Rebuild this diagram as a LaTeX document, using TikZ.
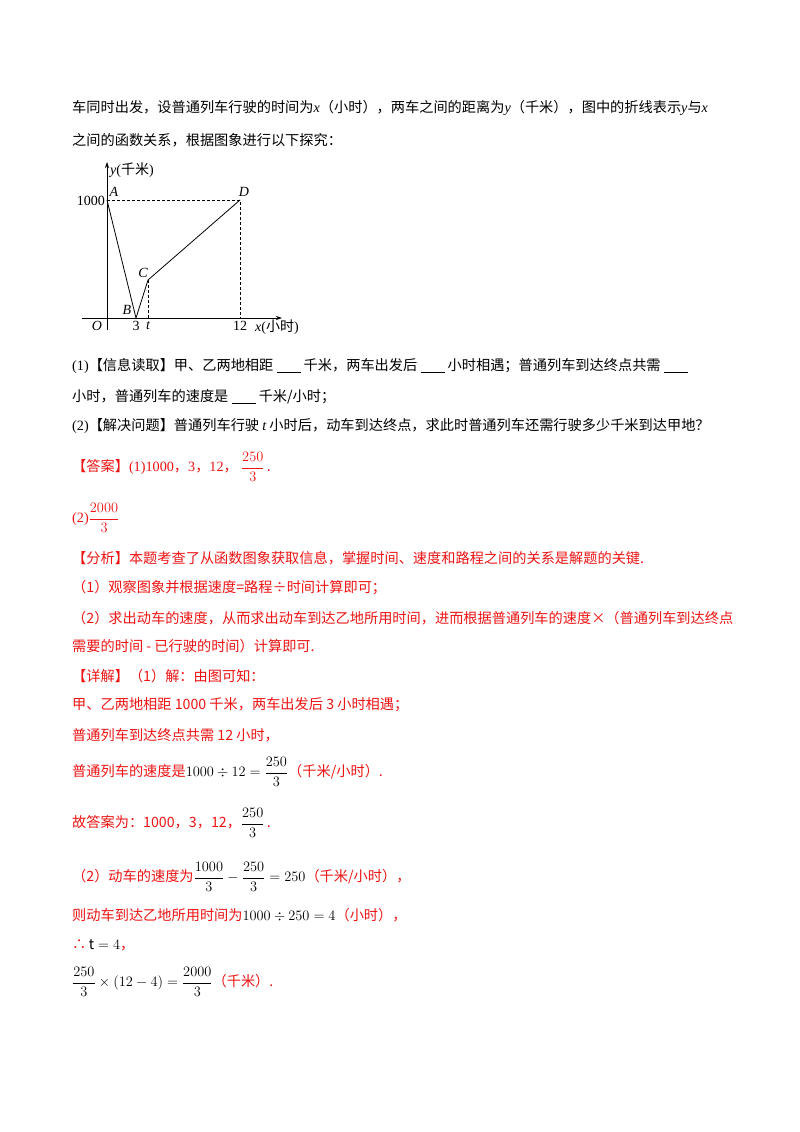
\documentclass[tikz,border=0pt]{standalone}
\usepackage{fontspec}
\setmainfont{Noto Sans CJK SC}
\newfontfamily\lt{Liberation Serif}
\usetikzlibrary{arrows.meta}
\definecolor{ans}{RGB}{238,20,20}
\newcommand{\blank}{\rule[-2pt]{24pt}{0.7pt}}
\begin{document}
\begin{tikzpicture}[x=1pt,y=-1pt,
  txt/.style={anchor=west,inner sep=0pt,font=\fontsize{14.2}{16}\selectfont},
  rtxt/.style={txt,text=ans},
  lbl/.style={inner sep=0pt,font=\lt\fontsize{14}{16}\selectfont},
  ax/.style={line width=0.7pt,-{Stealth[length=6pt,width=4pt]}},
  dsh/.style={dashed,line width=0.5pt,dash pattern=on 3pt off 2pt},
  crv/.style={line width=0.8pt}]
\useasboundingbox (0,0) rectangle (800,1132);
\fill[white] (0,0) rectangle (800,1132);
% text
\node[txt] (l1) at (72,108) {车同时出发，设普通列车行驶的时间为{\lt\itshape x}（小时），两车之间的距离为{\lt\itshape y}（千米），图中的折线表示{\lt\itshape y}与{\lt\itshape x}};
\node[txt] (l2) at (72,140) {之间的函数关系，根据图象进行以下探究：};
% graph
\coordinate (O) at (107,318);
\coordinate (A) at (107,200);
\coordinate (B) at (136,318);
\coordinate (C) at (148,280);
\coordinate (D) at (240,200);
\coordinate (C0) at (148,318);
\coordinate (D0) at (240,318);
\coordinate (xs) at (82,318);
\coordinate (xe) at (282,318);
\coordinate (ys) at (107,330);
\coordinate (ye) at (107,162);
\draw[ax] (xs) -- (xe);
\draw[ax] (ys) -- (ye);
\draw[dsh] (A) -- (D) -- (D0);
\draw[dsh] (C) -- (C0);
\draw[crv] (A) -- (B) -- (C) -- (D);
\node[lbl,anchor=west] (yl) at (110,170) {\itshape y{\upshape (}{\rmfamily 千米}{\upshape )}};
\node[lbl,anchor=east] (k) at (105,201) {1000};
\node[lbl] (An) at (114,192) {\itshape A};
\node[lbl] (Dn) at (244,192) {\itshape D};
\node[lbl] (Cn) at (143,273) {\itshape C};
\node[lbl] (Bn) at (127,310) {\itshape B};
\node[lbl] (On) at (97,326) {\itshape O};
\node[lbl] (n3) at (136,326) {3};
\node[lbl] (nt) at (148,326) {\itshape t};
\node[lbl] (n12) at (240,326) {12};
\node[lbl,anchor=west] (xl) at (255,327) {\itshape x{\upshape (}{\rmfamily 小时}{\upshape )}};
% questions
\node[txt] (q1) at (72,366) {{\lt(1)}【信息读取】甲、乙两地相距 \blank\ 千米，两车出发后 \blank\ 小时相遇；普通列车到达终点共需 \blank};
\node[txt] (q1b) at (72,397) {小时，普通列车的速度是 \blank\ 千米/小时；};
\node[txt] (q2) at (72,426) {{\lt(2)}【解决问题】普通列车行驶 {\lt\itshape t} 小时后，动车到达终点，求此时普通列车还需行驶多少千米到达甲地？};
% answer
\node[rtxt] (a1) at (72,467) {【答案】{\lt(1)1000}，{\lt 3}，{\lt 12}，\ $\displaystyle\frac{250}{3}$\,.};
\node[rtxt] (a2) at (72,518) {{\lt(2)}$\displaystyle\frac{2000}{3}$};
\node[rtxt] (f1) at (72,558) {【分析】本题考查了从函数图象获取信息，掌握时间、速度和路程之间的关系是解题的关键.};
\node[rtxt] (f2) at (72,588) {（1）观察图象并根据速度=路程÷时间计算即可；};
\node[rtxt] (f3) at (72,618) {（2）求出动车的速度，从而求出动车到达乙地所用时间，进而根据普通列车的速度×（普通列车到达终点};
\node[rtxt] (f4) at (72,646) {需要的时间 - 已行驶的时间）计算即可.};
\node[rtxt] (x1) at (72,676) {【详解】（1）解：由图可知：};
\node[rtxt] (x2) at (72,705) {甲、乙两地相距 1000 千米，两车出发后 3 小时相遇；};
\node[rtxt] (x3) at (72,735) {普通列车到达终点共需 12 小时，};
\node[rtxt] (x4) at (72,772) {普通列车的速度是\textcolor{black}{$1000\div12=\displaystyle\frac{250}{3}$}（千米/小时）.};
\node[rtxt] (x5) at (72,823) {故答案为：1000，3，12，\textcolor{black}{$\displaystyle\frac{250}{3}$}\,.};
\node[rtxt] (x6) at (72,877) {（2）动车的速度为\textcolor{black}{$\displaystyle\frac{1000}{3}-\frac{250}{3}=250$}（千米/小时），};
\node[rtxt] (x7) at (72,915) {则动车到达乙地所用时间为\textcolor{black}{$1000\div250=4$}（小时），};
\node[rtxt] (x8) at (72,945) {∴\,\textcolor{black}{$\mathrm{t}=4$}，};
\node[rtxt] (x9) at (72,982) {\textcolor{black}{$\displaystyle\frac{250}{3}\times(12-4)=\frac{2000}{3}$}（千米）.};
\end{tikzpicture}
\end{document}
